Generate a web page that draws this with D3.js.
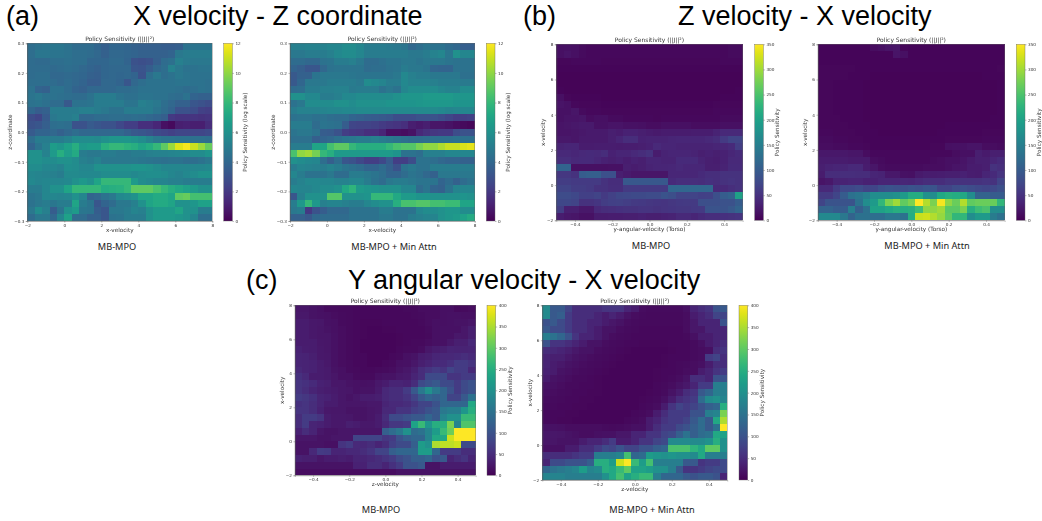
<!DOCTYPE html>
<html lang="en">
<head>
<meta charset="UTF-8">
<title>Policy Sensitivity</title>
<style>
    html, body { margin: 0; padding: 0; background: #fff; }
    svg { display: block; }
    .big { font-family: "Liberation Sans", Arial, sans-serif; font-size: 27px; fill: #000; }
    .caption { font-family: "Noto Sans", sans-serif; font-size: 9.2px; fill: #222; text-anchor: middle; }
    .panel { filter: blur(0.55px); }
    .panel text { font-family: "DejaVu Sans", sans-serif; fill: #333; }
    .small-title { font-size: 6px; text-anchor: middle; }
    .axis-label { font-size: 5.7px; text-anchor: middle; }
    .panel .tick text { font-size: 4.2px; }
    .panel .tick line, .panel .domain { stroke: #555; stroke-width: 0.4; }
    .row rect { shape-rendering: crispEdges; }
</style>
</head>
<body>
<div id="chart"></div>
<script src="https://d3js.org/d3.v7.min.js"></script>
<script>
// sensitivity grids, 25 x 25, first row is the top of the plot
const a1Values = [
[4.3,4.5,4.6,4.7,4.7,4.5,4.2,4.2,4.2,3.9,3.6,3.9,3.9,3.8,3.7,3.6,3.6,3.6,3.5,3.5,3.6,4.5,4.6,4.6,4.6],
[4.3,4.7,4.7,4.6,4.6,4.5,4.3,4.3,4.2,4.0,3.7,4,4,3.9,3.8,3.7,3.7,3.7,3.7,3.8,4.8,5,5,5,5],
[4.2,4.1,4.1,4.3,4.3,4.4,4.3,4.3,3.9,3.9,3.9,4.1,4.1,3.8,3,2.9,3,3.6,4.2,4.4,5.2,4.9,4.8,4.8,4.8],
[4.2,4.2,4.2,4.1,4.2,4.3,4.2,4,3.8,3.7,3.9,4,4,4,3.2,3.1,3.5,4,4.3,5.3,4.8,4.5,4.5,4.6,4.6],
[4.2,4.3,4.3,4,4,4.1,4,3.9,3.7,3.6,3.9,4,3.9,4,3.8,3,4.3,4.8,4.3,4.5,4.8,4.6,4.5,4.5,4.5],
[4.3,4.3,4.3,4.2,4,4.2,4,3.8,3.5,3.5,4,4,3.8,3.2,4,4.3,4.5,4.5,4.5,4.5,4.6,4.6,4.5,4.5,4.4],
[4.5,3.8,3.7,4.5,4.5,4.2,3.8,3.7,4,4,4,4,4.2,4.2,4.3,4.5,4.5,4.5,4.5,4.5,4.4,4.2,4.3,4.5,4.4],
[4.6,4.8,4.5,4.5,4.4,4.3,4.2,4.2,4.5,5,5,5,4.6,4.4,4.4,4.6,4.6,4.5,4.5,4.3,4.2,4.5,3.8,3.7,3.7],
[4.5,4.6,4.4,4.2,4.2,3.3,4.5,4.5,4.6,5,5,5,5,4.6,4.6,5.2,5,4.8,4.3,4,3.7,3.7,3.2,3,2.8],
[3.9,3.5,3.7,5,5,5,5,5.2,5.2,5,4.8,4.5,4.5,5,5,5,5,4.6,4.2,3.8,3,3,2.8,2.3,2.2],
[2.8,2.5,3.4,4.8,5,5,5.2,4,4,4.2,4.2,4.3,4.3,4.2,4.3,4.2,4,3.8,3.6,2,1.8,1.8,1.8,1.7,1.8],
[3,3.2,3.6,4.3,4.4,4.3,3,3,3.4,3.2,3,3,2.6,2.2,2.2,1.6,1.6,1.3,0.5,0.3,1,1.1,1,1,1.5],
[3.4,3.8,3.8,4,3.7,4,4.3,4,4,4,4,4,4,3.7,3.3,3.2,3,2.7,2.5,2.3,2.5,2.5,2.5,2.5,2.7],
[4.3,5,5,5,5,5.3,5.8,5.8,5.8,5.7,6,6.3,6.3,6.3,6.1,5.8,5.3,4.8,4.6,4.6,4.5,4.5,4.4,4.4,4.3],
[3.8,4.6,5.2,6.6,6.3,6.8,7.5,6.4,6.6,6.6,7.6,8,8,7.7,7.5,7,7.4,8,9,10.2,11.4,11.8,11,10.2,9.2],
[6,6,5.3,6.5,7.5,6.7,7.3,5,4.8,4.8,5,5,4.8,4.8,5,5,5.2,5.3,5.3,5.4,5.5,5.6,5.8,5.8,6.2],
[6,6,5.8,5.8,6,6,5.8,5.2,5,5.3,4.8,4.8,4.8,4.8,4.8,4.7,4.6,4.5,4.4,4.5,4.5,4.3,4.3,4.5,4.8],
[5.8,5.8,5.5,5.5,5.3,5.9,5.8,5.5,5.5,6,6,6,6,6,6.2,6.2,6,5.8,5.5,5.5,5.5,5.5,5.5,5.5,5.6],
[5.5,5.4,5.3,5.2,5,5.7,5.7,5.6,5.6,5.6,5.8,5.8,5.8,5.8,5.6,5.8,5.9,5.9,5.8,5.5,5.3,5.6,5.8,6.1,6.1],
[5.6,5.4,5.5,5.5,5.5,5.6,6,6.4,6,7,8,8,8,8,6.5,5.8,5.6,5.4,5.4,5.2,5.2,5,5,5,5],
[5,5,5.5,6,6,7,8,8,8,8,7.4,7.5,7.6,8,9,9,9,8.5,8,7.5,7.2,6.8,6.5,6,6],
[4.6,4.8,5.5,5.5,5.4,5.5,6,5.5,3.8,4,4.5,4.8,5.6,5.8,6,7,7,7.3,7.3,7,9,9.2,8.4,8.4,8.4],
[4.5,4.8,5,4.7,5,5,7,5,4.6,3.2,3.8,4.2,4.8,4.8,5.2,6,7,7.3,7.3,7,6,6,6.3,6.8,6.8],
[4.8,5.8,5.2,3.5,4.6,6,6.5,4.7,4.6,3.5,3.2,4.8,4.8,5,5.4,5.2,6,6.5,6.5,6.5,7,6,6,5,5],
[4.2,4.8,4.8,4,5.5,6.8,4.2,4.2,3.7,3.7,3.2,4.5,4.6,5,5,5,6,6.5,6.5,6.5,6.3,6,5.5,4.3,4.3]
];
const a2Values = [
[5.2,5.2,5.3,5.3,5.3,5.5,5.5,5.8,5.8,5.5,5,5,5,4.9,4.8,4.6,4,4.3,4.6,4.5,4.5,4.2,4,3.6,3.6],
[4.8,4.8,5,5,5,5.2,5.6,5.8,5.8,5.5,5,5,5,5,5,5,4.8,4.8,5,5.3,5.5,4.7,6,5.5,5.5],
[4.2,4.2,4,4,4.5,4.6,5,5,5.2,4.8,4.2,4.2,4.4,4.6,4.6,4.8,4.8,4.6,4.8,4.8,4.8,4.6,4.5,4.5,4.5],
[3.8,3.6,3.2,3.2,4,4.5,4.6,4.6,4.6,4.6,4.2,4.3,4.3,4.5,4.6,5,4.8,4.8,4.6,3.9,3.8,3.8,4.5,4.5,4.5],
[3.3,3.7,3.7,4.6,4.8,4.8,4.8,4.8,4.7,4.6,4.6,4.6,4.6,4.6,4.8,5.6,5.2,5,5,4.8,4.8,4.8,4.8,4.4,4.4],
[3.3,3.9,4.8,4.8,4.8,5,5,5,5,4.8,5.8,5.6,5.4,5,5,5.6,5.3,5.3,5.3,5.2,5,5,5,4.9,4.9],
[4.2,4.3,5,5,5.2,5.2,5.3,5.3,4.9,5,5,5,4.5,4.8,4.5,5.5,5.8,5.8,5.8,5.8,5.5,5.3,5.3,5.8,5.8],
[6,6,5.6,5.6,5,5,5.2,5.6,5.6,5.8,5.8,5.8,5.8,5.8,6,6.3,6.3,6.3,6.5,6.5,6.5,6.5,6.3,6.3,6.3],
[4.5,4.8,5.8,5.8,5.8,5.8,6,6,5.8,6,6,6,6,6.2,6.2,6.2,6.2,6.3,6.4,6.4,6.4,6.4,6.2,6.2,6.2],
[5,5.3,5.3,5.3,5.4,5.5,5.5,5.6,5.6,5.7,5.7,5.7,5.7,5.7,5.7,5.7,5.7,5.7,5.7,5.7,5.6,5.4,5.5,5.5,5.5],
[4.5,4.6,4.6,4.4,4.5,4.3,4.2,4.2,3.8,3.7,3.5,3.4,3.3,3.2,2.8,2.8,2.8,3,3,3,2.8,2.5,2.2,2.2,2.3],
[5,5,5,4.2,4.6,4.5,4.4,3.5,2.5,2.4,2.4,2.3,2.1,1.9,1.8,1.6,1,0.8,1,0.7,0.7,0.6,0.4,0.3,0.2],
[4.6,4.8,4.8,4.5,3.5,3.4,3,2.2,2,1.9,1.6,1.6,1.3,0.5,0.5,0.4,0.6,1.4,1.7,1.9,2,2,2.8,3,3],
[4.4,4.4,4.4,3.6,3.8,4,4.4,4.7,4.8,5,5,5.2,5,4.8,4.6,4.4,4.2,4.2,4.3,4.4,4.4,4.4,4.5,4.4,4.4],
[5,5,5,7,7,8.4,9,9,8,7.5,7.5,7.5,7.5,8,8.5,8.8,8.8,9.5,10,10,10.5,11,11,11.3,11.5],
[8.5,10,10.3,9.5,8,7.5,6.5,6.5,6.5,6.5,6.5,6.5,6.5,6.5,6.2,4.5,4.5,4.3,5.2,5.2,5.2,5.5,5.5,5.5,5.5],
[6,5.8,5.6,5.5,4.3,3.6,4.3,3.2,3,2.6,2.2,2.2,2.6,3.4,2.2,2.2,2.8,4.5,4.5,4.3,4,3.8,3.8,3.7,3.7],
[5,5.4,5.3,5.2,5,5.3,5,4.6,4.4,4.2,3.8,3.8,4.2,3.7,3,4.5,4.8,4.5,4.5,5,5,5,5,5,5],
[5.5,5,4.5,4.5,4.5,4.8,4.2,4.2,5,5,4.8,4.6,4.3,3.8,3.8,4.2,4.6,4.4,4,3.7,4.8,4.8,4.8,4.8,4.8],
[5,5.3,5.6,5.6,5.5,5.5,5.3,5.3,5.5,5.5,5,4.5,4.2,4.8,5,5,4.8,4.6,4.6,4.6,3.8,4.2,3.7,4.2,4.5],
[5.5,5.4,5.4,5.6,5.8,5.8,6,7.2,7.8,6.5,6.3,6.2,6,6,6,5.5,5.5,4.2,4.6,3.8,3.7,4.5,5.4,5.5,5.5],
[3.2,5.2,6,6,6,8.8,8.8,6,6,6,6.2,8,8,8,7.2,6.5,6.5,6.2,6.2,6,6,6,6,6.2,6],
[5,6.4,8,6.4,5.2,5.4,5.4,5.2,5,5,5.5,5.8,6,6,7.5,8.5,8.5,8.8,8.8,8.4,8.4,8.2,8.2,7,7],
[4.8,5,2,3,3.5,4,4,4,4.5,4.5,4.5,4.5,5,5,4.5,4.5,4.5,5.5,5.8,5.8,6,6.3,6.3,5.8,5.8],
[3.7,3.7,3.3,4,4.2,4.2,4.2,4.2,4.5,4.5,4.5,4.5,4.8,4.8,4.5,4.5,5,5.2,5.4,5.4,6,6.3,6.5,6.8,7.3]
];
const b1Values = [
[14,16,14,10,8,8,8,8,8,8,8,8,8,8,8,8,8,8,8,8,8,8,8,10,10],
[14,18,14,10,8,8,8,8,8,8,7,7,7,7,7,7,7,8,8,8,8,8,8,10,10],
[6,6,8,8,8,8,6,6,6,6,6,6,6,6,6,6,6,6,6,6,6,6,8,8,8],
[5,5,5,5,5,5,5,5,5,5,5,5,5,5,5,5,5,5,5,5,5,5,5,5,5],
[4,4,4,4,4,4,4,4,4,4,4,4,4,4,4,4,4,4,4,4,4,4,4,4,4],
[4,4,4,4,4,4,4,4,4,4,4,4,4,4,4,4,4,4,4,4,4,4,4,4,4],
[5,4,4,4,4,4,4,4,4,4,4,4,4,4,4,4,4,4,4,4,4,4,4,4,5],
[14,6,5,5,5,5,4,4,4,4,4,4,4,4,4,4,4,4,4,4,4,4,5,5,5],
[18,16,8,6,6,6,5,5,5,5,5,5,5,5,5,5,5,5,5,5,5,6,6,6,6],
[16,16,20,10,8,8,6,6,6,6,6,6,6,6,6,6,6,6,6,6,6,8,8,8,8],
[16,18,18,20,12,14,14,10,10,8,8,8,8,6,8,8,8,8,8,8,8,8,10,10,10],
[18,20,22,24,24,16,16,18,18,16,16,14,12,12,14,14,14,14,12,12,12,12,14,14,14],
[18,18,20,22,24,24,24,30,26,32,32,30,26,24,26,26,26,26,28,28,28,34,40,40,40],
[22,22,20,24,24,24,24,30,36,44,44,32,34,34,34,36,38,38,38,38,40,44,60,70,70],
[34,36,36,26,26,28,28,28,26,28,28,30,32,40,36,36,34,34,34,34,34,36,38,42,62],
[40,40,38,40,42,40,44,32,36,36,40,44,50,26,34,36,36,36,34,30,32,30,32,38,42],
[46,46,40,42,42,38,32,30,32,28,32,30,36,36,34,34,42,42,42,34,30,28,32,40,40],
[112,112,14,14,14,14,14,16,16,30,26,30,34,36,36,38,40,38,38,38,30,30,34,42,42],
[55,55,50,100,104,104,85,85,30,24,20,20,20,20,20,38,38,38,38,42,46,46,50,50,50],
[62,62,60,60,60,60,50,45,45,95,95,95,95,95,95,42,46,46,46,44,48,46,50,52,50],
[70,70,62,62,60,50,50,46,46,60,60,60,60,60,60,115,115,115,115,115,115,40,40,46,50],
[80,80,76,66,66,70,60,68,74,76,78,78,80,80,90,84,70,70,70,66,68,84,102,110,200],
[74,74,70,50,50,54,62,66,68,64,60,58,56,54,52,56,58,60,60,84,84,84,88,88,100],
[62,30,30,22,22,40,44,46,48,50,50,52,52,50,52,54,56,56,58,60,90,90,90,96,110],
[28,22,20,16,16,26,26,28,28,30,30,32,30,30,32,34,40,40,36,42,46,46,48,50,52]
];
const b2Values = [
[5,5,5,5,5,5,5,12,14,18,20,6,5,5,5,5,5,5,5,5,5,5,5,5,5],
[5,5,5,5,5,5,5,5,5,5,18,14,5,5,5,5,5,5,5,5,5,5,5,5,5],
[5,5,5,5,5,5,5,5,5,5,5,5,5,5,5,5,5,5,5,5,5,5,5,5,5],
[6,6,6,6,6,5,5,5,5,5,5,5,5,5,5,5,5,5,5,5,5,5,5,5,6],
[6,6,6,6,5,5,5,4,4,4,4,4,4,4,4,4,4,4,4,4,4,4,5,5,5],
[6,6,5,5,5,5,4,4,4,4,4,4,4,4,4,4,4,4,4,4,4,4,4,4,5],
[6,6,5,5,5,5,4,4,4,4,4,4,4,4,4,4,4,4,4,4,4,4,4,4,5],
[6,6,5,5,5,5,4,4,4,4,4,4,4,4,4,4,4,4,4,4,4,4,4,4,5],
[6,6,5,5,5,5,4,4,4,4,4,4,4,4,4,4,4,4,4,4,4,4,4,4,5],
[6,6,5,5,5,5,4,4,4,4,4,4,4,4,4,4,4,4,4,4,4,4,4,4,5],
[6,6,6,5,5,5,4,4,4,4,4,4,4,4,4,4,4,4,4,4,4,4,4,5,5],
[6,6,6,6,5,5,5,4,4,4,4,4,4,4,4,4,4,5,5,5,5,5,5,5,5],
[8,8,6,6,6,5,5,5,4,4,4,4,4,4,4,4,5,5,5,5,5,5,6,6,6],
[10,10,8,8,6,6,5,5,5,5,5,5,5,5,5,5,5,6,6,6,6,6,8,8,8],
[12,12,10,10,8,8,6,5,5,5,5,5,5,5,5,6,6,14,16,16,18,18,12,12,10],
[22,22,22,22,20,20,12,8,8,8,8,8,8,8,8,8,8,8,12,14,14,30,24,30,30],
[26,26,26,26,24,24,24,12,10,8,8,8,8,8,8,10,12,14,14,18,24,30,30,36,42],
[30,34,36,36,40,40,26,20,12,10,10,10,10,10,12,12,12,14,18,20,26,26,30,50,46],
[26,44,44,46,46,44,44,36,34,22,22,16,14,24,28,26,28,30,30,32,28,26,36,42,52],
[18,22,34,34,36,36,32,32,36,36,36,38,36,40,44,44,44,50,50,50,50,50,52,50,70],
[40,40,60,76,76,80,70,72,84,90,86,84,90,86,92,90,70,70,80,86,80,76,72,76,84],
[60,60,72,100,130,138,150,170,170,170,175,190,215,215,175,170,210,220,215,210,170,110,110,100,100],
[70,90,90,90,90,130,170,190,230,280,300,265,280,350,310,280,345,290,270,310,265,270,270,270,230],
[110,110,100,100,150,105,130,200,200,210,220,215,220,240,290,290,300,260,260,280,220,240,250,170,170],
[165,165,165,140,110,130,130,125,125,140,140,130,215,320,325,310,295,265,230,230,170,190,190,145,130]
];
const c1Values = [
[22,22,20,16,12,12,10,10,8,8,8,8,8,8,8,10,10,14,14,14,16,16,10,12,14],
[26,26,20,18,16,14,12,10,8,8,8,8,8,8,8,8,10,12,14,14,16,18,18,16,16],
[30,30,26,24,18,16,12,10,8,7,7,7,8,8,8,8,8,10,14,16,16,18,20,20,22],
[30,30,26,22,20,16,14,10,8,7,6,6,7,7,8,8,8,8,12,16,18,18,18,24,34],
[30,30,26,22,22,18,14,10,8,7,6,6,6,6,7,8,8,8,10,16,18,18,26,24,34],
[30,30,30,24,22,18,14,10,8,6,6,6,6,6,7,8,10,10,14,16,18,26,34,34,44],
[36,32,30,26,22,18,14,10,8,6,6,6,6,6,8,10,10,14,24,30,34,40,38,38,40],
[40,38,34,26,24,18,14,10,8,8,6,6,6,8,10,16,20,30,34,42,44,44,48,52,46],
[40,38,36,30,26,18,14,12,8,8,6,6,8,10,16,18,24,34,40,48,48,56,70,70,60],
[44,38,36,30,28,20,16,12,10,8,8,10,12,14,20,24,34,50,60,70,60,80,70,70,44],
[56,46,30,30,28,22,16,16,12,10,10,16,20,20,26,28,40,50,90,90,90,60,60,70,70],
[60,56,48,36,34,24,24,20,18,16,18,26,30,40,40,36,50,90,100,110,90,90,70,90,100],
[60,50,40,34,30,28,24,22,18,20,20,28,44,50,50,70,110,160,200,160,130,100,70,90,100],
[70,64,56,40,36,30,24,20,24,30,30,34,44,50,50,60,80,110,130,120,130,80,80,110,150],
[56,60,50,40,30,30,24,22,22,22,26,26,40,46,46,50,64,80,80,100,130,130,130,130,240],
[60,60,50,36,26,24,24,20,20,20,22,26,44,44,60,60,76,84,100,110,160,170,170,210,250],
[50,70,70,60,30,26,26,24,20,20,22,30,50,90,90,100,110,110,130,110,180,200,200,270,270],
[50,70,40,36,30,26,26,34,30,26,26,30,44,64,64,70,230,270,210,250,250,320,180,290,290],
[36,50,40,24,20,20,22,22,22,22,22,22,120,140,160,200,140,150,180,220,270,310,400,400,400],
[24,24,24,20,20,22,22,22,80,80,80,80,64,70,100,120,130,130,180,240,240,370,400,400,400],
[20,20,20,20,16,16,60,70,46,44,50,40,50,76,90,90,120,220,200,350,360,360,370,90,90],
[20,20,44,70,66,40,40,44,44,50,60,80,80,120,130,130,130,220,220,130,70,70,70,50,50],
[36,34,34,24,30,30,34,30,40,40,44,50,60,70,90,100,120,120,130,100,110,40,50,60,40],
[20,20,20,20,20,20,20,20,36,36,50,50,40,56,70,100,100,110,20,20,30,30,30,30,30],
[14,14,14,14,14,14,14,14,14,14,14,14,14,14,20,20,20,20,20,20,20,20,20,20,20]
];
const c2Values = [
[190,110,110,80,50,50,50,50,60,60,60,40,30,14,12,12,12,12,12,16,40,50,60,100,110],
[190,110,120,70,50,50,50,40,30,40,30,20,14,12,10,10,10,10,10,14,30,40,50,80,80],
[100,110,90,70,50,50,40,40,30,24,20,14,12,10,10,10,10,10,10,14,24,40,40,40,100],
[110,90,90,70,50,50,40,30,20,20,14,12,10,8,8,8,8,8,8,14,24,24,40,40,40],
[170,150,130,100,60,40,40,30,20,14,12,10,8,8,8,8,8,8,8,10,16,30,30,40,40],
[100,60,60,50,40,30,20,20,14,12,10,8,8,7,7,7,7,8,8,8,12,16,30,40,50],
[50,44,40,34,26,20,20,14,12,10,8,7,6,6,6,6,6,7,8,8,12,14,16,50,60],
[40,34,34,26,20,16,14,12,10,8,7,6,6,6,6,6,7,8,8,8,12,14,70,80,50],
[40,30,26,20,16,14,12,10,8,7,6,6,6,6,6,6,7,8,10,12,14,16,30,50,50],
[36,30,20,16,14,12,10,8,7,6,6,6,6,6,6,7,8,8,10,14,14,30,40,60,70],
[30,20,16,14,10,10,8,7,6,6,6,6,6,6,6,7,8,10,14,20,50,50,40,100,100],
[20,16,14,10,10,8,8,7,6,6,6,6,6,6,6,8,10,14,20,26,40,70,70,170,170],
[16,14,12,10,8,8,7,7,6,6,6,6,6,6,7,8,12,20,30,50,60,110,130,170,170],
[14,12,10,8,8,7,7,6,6,6,6,6,6,7,8,10,16,30,50,60,70,140,190,200,180],
[12,10,8,8,7,7,6,6,6,6,6,6,6,8,10,14,30,60,80,70,80,100,120,130,250],
[10,8,8,7,7,6,6,6,6,6,6,6,8,10,14,30,50,70,70,70,100,100,170,180,320],
[10,8,7,7,6,6,6,6,6,6,6,8,10,14,30,40,60,70,70,80,110,140,110,240,350],
[20,18,16,14,14,14,14,14,12,10,12,14,16,16,30,50,70,70,90,100,120,140,110,150,400],
[24,24,22,20,16,14,14,16,18,18,24,24,40,40,60,60,80,90,120,150,120,140,150,240,230],
[22,22,20,20,20,30,40,40,50,70,30,30,40,60,60,80,90,190,190,190,190,190,200,250,200],
[16,16,16,30,30,50,50,70,90,80,100,80,80,100,100,120,130,285,285,285,260,240,300,300,200],
[50,50,50,50,60,70,70,170,170,170,180,280,130,140,220,210,200,210,200,200,190,240,170,170,170],
[40,90,90,100,100,100,120,250,250,220,370,400,270,220,280,170,170,170,170,110,110,60,70,70,90],
[130,150,160,170,180,220,180,190,250,240,270,300,230,230,220,200,200,170,110,60,60,70,80,90,90],
[180,180,180,170,170,170,170,170,200,240,280,230,250,270,270,170,130,130,130,110,100,110,110,100,40]
];

// axis ranges and ticks
const xVelocityTicks = [-2, 0, 2, 4, 6, 8];
const zCoordTicks = [-0.3, -0.2, -0.1, 0, 0.1, 0.2, 0.3];
const unitTicks = [-0.4, -0.2, 0, 0.2, 0.4];
const logTicks = [0, 2, 4, 6, 8, 10, 12];
const sens350Ticks = [0, 50, 100, 150, 200, 250, 300, 350];
const sens400Ticks = [0, 50, 100, 150, 200, 250, 300, 350, 400];

const width = 1042, height = 521;

const panels = [
    { values: a1Values, left: 27.3, right: 212.3, top: 43.3, bottom: 221, cbar: 223.7, yOff: 17.3, cOff: 12.7, xDomain: [-2, 8], yDomain: [-0.3, 0.3],
      xTicks: xVelocityTicks, yTicks: zCoordTicks, cTicks: logTicks, xLabel: "x-velocity", yLabel: "z-coordinate", cLabel: "Policy Sensitivity (log scale)", title: "Policy Sensitivity (||J||²)" },
    { values: a2Values, left: 290, right: 474.7, top: 43.3, bottom: 221, cbar: 486.3, yOff: 17.3, cOff: 12.7, xDomain: [-2, 8], yDomain: [-0.3, 0.3],
      xTicks: xVelocityTicks, yTicks: zCoordTicks, cTicks: logTicks, xLabel: "x-velocity", yLabel: "z-coordinate", cLabel: "Policy Sensitivity (log scale)", title: "Policy Sensitivity (||J||²)" },
    { values: b1Values, left: 556.3, right: 742.7, top: 44.3, bottom: 220.3, cbar: 754.7, yOff: 13.5, cOff: 13.6, xDomain: [-0.5, 0.5], yDomain: [-2, 8],
      xTicks: unitTicks, yTicks: xVelocityTicks, cTicks: sens350Ticks, xLabel: "y-angular-velocity (Torso)", yLabel: "x-velocity", cLabel: "Policy Sensitivity", title: "Policy Sensitivity (||J||²)" },
    { values: b2Values, left: 818, right: 1004.7, top: 44.3, bottom: 220.3, cbar: 1016.3, yOff: 13, cOff: 13.6, xDomain: [-0.5, 0.5], yDomain: [-2, 8],
      xTicks: unitTicks, yTicks: xVelocityTicks, cTicks: sens350Ticks, xLabel: "y-angular-velocity (Torso)", yLabel: "x-velocity", cLabel: "Policy Sensitivity", title: "Policy Sensitivity (||J||²)" },
    { values: c1Values, left: 295, right: 475.7, top: 305.3, bottom: 475.3, cbar: 487, yOff: 13, cOff: 14.3, xDomain: [-0.5, 0.5], yDomain: [-2, 8],
      xTicks: unitTicks, yTicks: xVelocityTicks, cTicks: sens400Ticks, xLabel: "z-velocity", yLabel: "x-velocity", cLabel: "Policy Sensitivity", title: "Policy Sensitivity (||J||²)" },
    { values: c2Values, left: 542.3, right: 727.3, top: 305.3, bottom: 480, cbar: 739, yOff: 12.7, cOff: 14.3, xDomain: [-0.5, 0.5], yDomain: [-2, 8],
      xTicks: unitTicks, yTicks: xVelocityTicks, cTicks: sens400Ticks, xLabel: "z-velocity", yLabel: "x-velocity", cLabel: "Policy Sensitivity", title: "Policy Sensitivity (||J||²)" }
];

const headings = [
    { text: "(a)", x: 6, y: 25 },
    { text: "X velocity - Z coordinate", x: 133, y: 25 },
    { text: "(b)", x: 523, y: 25 },
    { text: "Z velocity - X velocity", x: 678, y: 25 },
    { text: "(c)", x: 246, y: 289 },
    { text: "Y angular velocity - X velocity", x: 348, y: 289 }
];

const captions = [
    { text: "MB-MPO", x: 117, y: 250 },
    { text: "MB-MPO + Min Attn", x: 394, y: 250 },
    { text: "MB-MPO", x: 651, y: 249 },
    { text: "MB-MPO + Min Attn", x: 927, y: 249 },
    { text: "MB-MPO", x: 381, y: 513 },
    { text: "MB-MPO + Min Attn", x: 652, y: 513 }
];

const svg = d3.select("#chart").append("svg")
    .attr("width", width)
    .attr("height", height);

// shared gradient for the colour bars
const gradient = svg.append("defs").append("linearGradient")
    .attr("id", "viridis")
    .attr("x1", 0).attr("x2", 0).attr("y1", 1).attr("y2", 0);
d3.range(0, 1.001, 0.05).forEach(t => {
    gradient.append("stop")
        .attr("offset", t)
        .attr("stop-color", d3.interpolateViridis(t));
});

panels.forEach(p => {
    const g = svg.append("g").attr("class", "panel");
    const cMax = p.cTicks[p.cTicks.length - 1];
    const color = d3.scaleSequential(d3.interpolateViridis).domain([0, cMax]);

    const col = d3.scaleBand().domain(d3.range(25)).range([p.left, p.right]);
    const row = d3.scaleBand().domain(d3.range(25)).range([p.top, p.bottom]);
    const x = d3.scaleLinear().domain(p.xDomain).range([p.left, p.right]);
    const y = d3.scaleLinear().domain(p.yDomain).range([p.bottom, p.top]);
    const c = d3.scaleLinear().domain([0, cMax]).range([p.bottom, p.top]);

    g.selectAll("g.row")
        .data(p.values)
        .enter().append("g")
        .attr("class", "row")
        .selectAll("rect")
        .data((d, i) => d.map((v, j) => ({ v: v, i: i, j: j })))
        .enter().append("rect")
        .attr("x", d => col(d.j))
        .attr("y", d => row(d.i))
        .attr("width", col.bandwidth())
        .attr("height", row.bandwidth())
        .attr("fill", d => color(d.v));

    g.append("g")
        .attr("transform", `translate(0,${p.bottom})`)
        .call(d3.axisBottom(x).tickValues(p.xTicks).tickSize(1.5).tickPadding(1.5).tickFormat(p.xDomain[1] > 1 ? d3.format("d") : d3.format(".1f")));
    g.append("g")
        .attr("transform", `translate(${p.left},0)`)
        .call(d3.axisLeft(y).tickValues(p.yTicks).tickSize(1.5).tickPadding(1.5).tickFormat(p.yDomain[1] > 1 ? d3.format("d") : d3.format(".1f")));

    g.append("rect")
        .attr("x", p.left).attr("y", p.top)
        .attr("width", p.right - p.left).attr("height", p.bottom - p.top)
        .attr("fill", "none").attr("stroke", "#666").attr("stroke-width", 0.4);

    // colour bar
    const barWidth = 8.7;
    g.append("rect")
        .attr("x", p.cbar).attr("y", p.top)
        .attr("width", barWidth).attr("height", p.bottom - p.top)
        .attr("fill", "url(#viridis)")
        .attr("stroke", "#666").attr("stroke-width", 0.4);
    g.append("g")
        .attr("transform", `translate(${p.cbar + barWidth},0)`)
        .call(d3.axisRight(c).tickValues(p.cTicks).tickSize(1.5).tickPadding(1.5).tickFormat(d3.format("d")))
        .call(a => a.select(".domain").remove());

    g.append("text").attr("class", "small-title")
        .attr("x", (p.left + p.right) / 2).attr("y", p.top - 2.5)
        .text(p.title);
    g.append("text").attr("class", "axis-label")
        .attr("x", (p.left + p.right) / 2).attr("y", p.bottom + 11)
        .text(p.xLabel);
    g.append("text").attr("class", "axis-label")
        .attr("transform", `translate(${p.left - p.yOff + 2},${(p.top + p.bottom) / 2}) rotate(-90)`)
        .text(p.yLabel);
    g.append("text").attr("class", "axis-label")
        .attr("transform", `translate(${p.cbar + barWidth + p.cOff + 2},${(p.top + p.bottom) / 2}) rotate(-90)`)
        .text(p.cLabel);
});

svg.selectAll("text.big")
    .data(headings)
    .enter().append("text")
    .attr("class", "big")
    .attr("x", d => d.x)
    .attr("y", d => d.y)
    .text(d => d.text);

svg.selectAll("text.caption")
    .data(captions)
    .enter().append("text")
    .attr("class", "caption")
    .attr("x", d => d.x)
    .attr("y", d => d.y)
    .text(d => d.text);
</script>
</body>
</html>
